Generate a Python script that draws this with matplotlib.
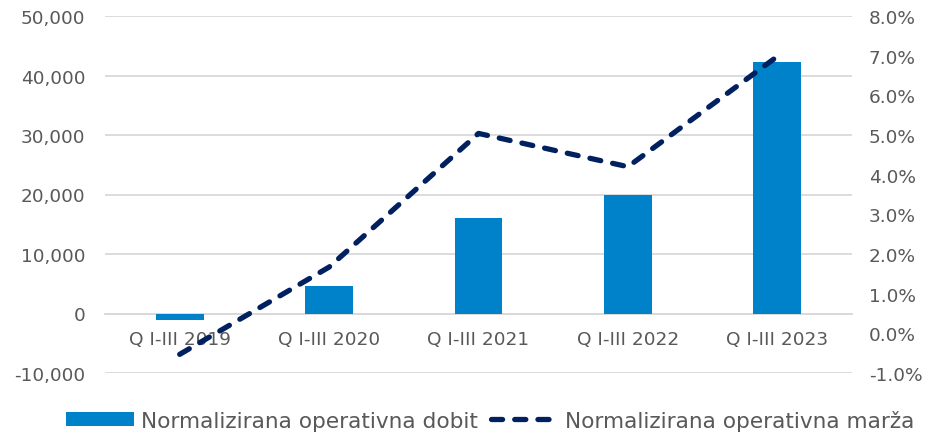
import matplotlib
matplotlib.use("Agg")
import matplotlib.pyplot as plt
from matplotlib.ticker import FuncFormatter, MultipleLocator

categories = ["Q I-III 2019", "Q I-III 2020", "Q I-III 2021", "Q I-III 2022", "Q I-III 2023"]
dobit = [-1100, 4700, 16100, 20000, 42200]
marza = [-0.53, 1.67, 5.04, 4.2, 6.98]

bar_color = "#0082CA"
line_color = "#002060"
text_color = "#595959"
grid_color = "#D9D9D9"

plt.rcParams['font.family'] = ['DejaVu Sans']

fig = plt.figure(figsize=(9.29, 4.35), dpi=100)
ax = fig.add_axes([105/929, 1-374/435, (852-105)/929, (374-17)/435])
ax2 = ax.twinx()

x = list(range(len(categories)))
ax.bar(x, dobit, width=0.32, color=bar_color, zorder=3,
       label="Normalizirana operativna dobit")
ax2.plot(x, marza, color=line_color, lw=3.8, ls=(0, (2.1, 2.3)),
         dash_capstyle='round', zorder=4, label="Normalizirana operativna marža")

ax.set_xlim(-0.5, len(categories) - 0.5)
ax.set_ylim(-10000, 50000)
ax.yaxis.set_major_locator(MultipleLocator(10000))
ax.yaxis.set_major_formatter(FuncFormatter(lambda v, p: f"{v:,.0f}"))
ax2.set_ylim(-1.0, 8.0)
ax2.yaxis.set_major_locator(MultipleLocator(1.0))
ax2.yaxis.set_major_formatter(FuncFormatter(lambda v, p: f"{v:.1f}%"))

ax.grid(axis='y', color=grid_color, lw=1.3, zorder=0)
ax.set_axisbelow(True)
for a in (ax, ax2):
    for s in a.spines.values():
        s.set_visible(False)
ax.spines['bottom'].set_visible(True)
ax.spines['bottom'].set_position(('data', 0))
ax.spines['bottom'].set_color(grid_color)
ax.spines['bottom'].set_linewidth(1.3)

ax.set_xticks(x)
ax.set_xticklabels(categories)
ax.tick_params(axis='x', length=0, pad=12, labelsize=13.3, colors=text_color)
ax.tick_params(axis='y', length=0, pad=14, labelsize=13.3, colors=text_color)
ax2.tick_params(axis='y', length=0, pad=12, labelsize=13.3, colors=text_color)

h1, l1 = ax.get_legend_handles_labels()
h2, l2 = ax2.get_legend_handles_labels()
fig.legend(h1 + h2, l1 + l2, loc='lower center', bbox_to_anchor=(0.528, -0.037),
           ncol=2, frameon=False, fontsize=15.6, labelcolor=text_color,
           handlelength=3.1, handletextpad=0.34, columnspacing=0.6,
           handleheight=0.56)

fig.savefig("out.png", dpi=100)
